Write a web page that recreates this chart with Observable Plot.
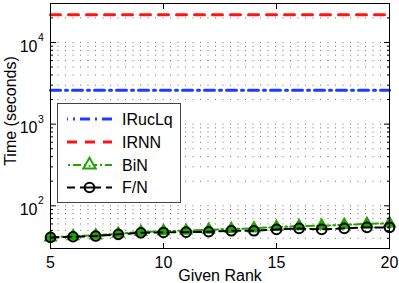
<!DOCTYPE html>
<html>
<head>
<meta charset="utf-8">
<script src="https://cdn.jsdelivr.net/npm/d3@7"></script>
<script src="https://cdn.jsdelivr.net/npm/@observablehq/plot@0.6"></script>
<style>
  html, body { margin: 0; padding: 0; background: #fff; }
  svg { display: block; }
</style>
</head>
<body>
<div id="chart"></div>
<script>
const ranks = [5, 6, 7, 8, 9, 10, 11, 12, 13, 14, 15, 16, 17, 18, 19, 20];
const iruclqTimes = [2600, 2600, 2600, 2600, 2600, 2600, 2600, 2600, 2600, 2600, 2600, 2600, 2600, 2600, 2600, 2600];
const irnnTimes = [21800, 21800, 21800, 21800, 21800, 21800, 21800, 21800, 21800, 21800, 21800, 21800, 21800, 21800, 21800, 21800];
const binTimes = [41, 42.5, 43.5, 45.5, 48, 49, 49.5, 51, 52, 53, 55, 56.5, 57, 58.5, 60, 61];
const fnTimes = [41, 41.8, 42.6, 44.7, 46.7, 47.2, 47.6, 48.1, 49.4, 49.4, 51.4, 52.9, 51.4, 52.9, 54.4, 54.4];
const seriesNames = ["IRucLq", "IRNN", "BiN", "F/N"];
const xTicks = [5, 10, 15, 20];
const yMajor = [100, 1000, 10000];
const yMinor = [40, 50, 60, 70, 80, 90, 200, 300, 400, 500, 600, 700, 800, 900,
                2000, 3000, 4000, 5000, 6000, 7000, 8000, 9000, 20000];
const xTitle = "Given Rank";
const yTitle = "Time (seconds)";

const BLUE = "#1e3cff", RED = "#ff1414", GREEN = "#22a300", BLACK = "#000";
const FONT = "Liberation Sans, Arial, Helvetica, sans-serif";
const FS = 16;

const rows = (vals, name) => ranks.map((r, i) => ({rank: r, time: vals[i], series: name}));
const iruclq = rows(iruclqTimes, seriesNames[0]);
const irnn = rows(irnnTimes, seriesNames[1]);
const bin = rows(binTimes, seriesNames[2]);
const fn = rows(fnTimes, seriesNames[3]);

const styles = {
  IRucLq: {stroke: BLUE, strokeWidth: 3, dash: "10,5,2,5"},
  IRNN: {stroke: RED, strokeWidth: 3, dash: "10,8"},
  BiN: {stroke: GREEN, strokeWidth: 2, dash: "8,3,2,3"},
  "F/N": {stroke: BLACK, strokeWidth: 2, dash: "8,5"}
};

const chart = Plot.plot({
  width: 399,
  height: 283,
  marginLeft: 50,
  marginRight: 10,
  marginTop: 3,
  marginBottom: 35,
  style: {fontFamily: FONT, fontSize: FS + "px", background: "#fff", color: "#000"},
  x: {domain: [5, 20], axis: null},
  y: {type: "log", domain: [30, 30000], axis: null},
  marks: [
    Plot.gridY(yMinor.concat(yMajor), {stroke: "#333", strokeOpacity: 0.7, strokeDasharray: "1,6.5", strokeWidth: 1}),
    Plot.line(irnn, {x: "rank", y: "time", stroke: RED, strokeWidth: 3, strokeDasharray: styles.IRNN.dash}),
    Plot.line(iruclq, {x: "rank", y: "time", stroke: BLUE, strokeWidth: 3, strokeDasharray: styles.IRucLq.dash}),
    Plot.line(bin, {x: "rank", y: "time", stroke: GREEN, strokeWidth: 2, strokeDasharray: styles.BiN.dash}),
    Plot.dot(bin, {x: "rank", y: "time", symbol: "triangle", r: 4.3, fill: GREEN, stroke: GREEN, strokeWidth: 1.5}),
    Plot.line(fn, {x: "rank", y: "time", stroke: BLACK, strokeWidth: 2, strokeDasharray: styles["F/N"].dash}),
    Plot.dot(fn, {x: "rank", y: "time", symbol: "circle", r: 4.8, fill: "none", stroke: BLACK, strokeWidth: 2}),
    Plot.frame({stroke: "#000", strokeWidth: 1}),
    // inward ticks
    Plot.axisY(yMajor, {anchor: "left", tickSize: 6, dx: 6, tickFormat: () => "", label: null, stroke: "#000"}),
    Plot.axisY(yMajor, {anchor: "right", tickSize: 6, dx: -6, tickFormat: () => "", label: null, stroke: "#000"}),
    Plot.axisY(yMinor, {anchor: "left", tickSize: 3, dx: 3, tickFormat: () => "", label: null, stroke: "#000"}),
    Plot.axisY(yMinor, {anchor: "right", tickSize: 3, dx: -3, tickFormat: () => "", label: null, stroke: "#000"}),
    Plot.axisX(xTicks, {anchor: "bottom", tickSize: 5, dy: -5, tickFormat: () => "", label: null, stroke: "#000"}),
    Plot.axisX(xTicks, {anchor: "top", tickSize: 5, dy: 5, tickFormat: () => "", label: null, stroke: "#000"}),
    // tick labels
    Plot.text(xTicks, {x: d => d, frameAnchor: "bottom", lineAnchor: "middle", text: d => String(d), dy: 14.5, fontSize: FS, fill: "#000"}),
    Plot.text(yMajor, {y: d => d, frameAnchor: "left", text: () => "10", textAnchor: "end", dx: -13, dy: 4, fontSize: FS, fill: "#000"}),
    Plot.text(yMajor, {y: d => d, frameAnchor: "left", text: d => String(Math.round(Math.log10(d))), textAnchor: "start", dx: -12.5, dy: -5, fontSize: 10.5, fill: "#000"}),
    // titles
    Plot.text([xTitle], {frameAnchor: "bottom", lineAnchor: "middle", textAnchor: "middle", text: d => d, dy: 27.5, fontSize: FS, fill: "#000"}),
    Plot.text([yTitle], {frameAnchor: "left", lineAnchor: "middle", textAnchor: "middle", text: d => d, rotate: -90, dx: -40, dy: -15, fontSize: FS, fill: "#000"})
  ]
});

document.getElementById("chart").appendChild(chart);

// Legend box (inside the axes, upper-left area)
const svg = d3.select(chart);
const lg = svg.append("g").attr("font-family", FONT).attr("font-size", FS).attr("text-anchor", "start");
const box = {x: 57.5, y: 103.5, w: 123, h: 99};
lg.append("rect").attr("x", box.x).attr("y", box.y).attr("width", box.w).attr("height", box.h)
  .attr("fill", "#fff").attr("stroke", "#444").attr("stroke-width", 1);
const rowY = [119, 142, 165, 187.5];
seriesNames.forEach((name, i) => {
  const s = styles[name];
  const y = rowY[i];
  lg.append("line").attr("x1", 67).attr("x2", 112).attr("y1", y).attr("y2", y)
    .attr("stroke", s.stroke).attr("stroke-width", s.strokeWidth).attr("stroke-dasharray", s.dash)
    .attr("stroke-dashoffset", name === "IRucLq" ? 9 : (name === "BiN" ? 10 : 0));
  if (name === "BiN") {
    lg.append("path").attr("transform", `translate(89.5,${y})`)
      .attr("d", d3.symbol(d3.symbolTriangle2, 110)())
      .attr("fill", "#fff").attr("stroke", GREEN).attr("stroke-width", 2);
    lg.append("circle").attr("cx", 89.5).attr("cy", y + 1).attr("r", 1).attr("fill", GREEN);
  }
  if (name === "F/N") {
    lg.append("circle").attr("cx", 89.5).attr("cy", y).attr("r", 4.8)
      .attr("fill", "#fff").attr("stroke", BLACK).attr("stroke-width", 2);
    lg.append("line").attr("x1", 85).attr("x2", 94).attr("y1", y).attr("y2", y)
      .attr("stroke", BLACK).attr("stroke-width", 2);
  }
  lg.append("text").attr("x", 122).attr("y", y).attr("dy", "0.35em").attr("fill", "#000")
    .attr("text-anchor", "start").text(name);
});
</script>
</body>
</html>
